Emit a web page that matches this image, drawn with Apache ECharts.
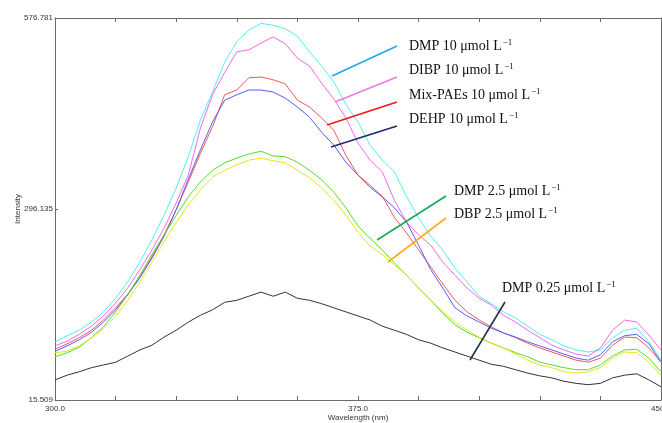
<!DOCTYPE html>
<html>
<head>
<meta charset="utf-8">
<script src="https://cdn.jsdelivr.net/npm/echarts@6/dist/echarts.min.js"></script>
<style>html,body{margin:0;padding:0;background:#fff}#c{width:662px;height:423px}</style>
</head>
<body>
<div id="c"></div>
<script>
const wavelengths = [300,303,306,309,312,315,318,321,324,327,330,333,336,339,342,345,348,351,354,357,360,363,366,369,372,375,378,381,384,387,390,393,396,399,402,405,408,411,414,417,420,423,426,429,432,435,438,441,444,447,450];
const dmp10 = [101,110,118,130,145,165,189,218,251,287,327,373,427,468,512,542,559,569,566,561,550,527,506,483,450,424,390,368,351,315,283,256,236,209,189,168,157,145,136,124,112,104,95,89,86,89,107,118,121,101,74];
const dibp10 = [95,102,112,124,139,158,180,207,236,268,305,346,415,464,497,527,530,540,549,539,518,506,481,458,430,393,368,351,309,277,258,243,218,199,180,165,155,140,130,118,107,96,89,83,80,92,118,133,130,111,89];
const mix10 = [90,98,107,118,133,151,171,196,226,258,295,336,378,417,464,471,489,490,486,480,456,446,430,412,375,346,331,315,284,261,236,211,186,162,145,133,123,114,107,99,92,86,80,74,71,77,96,108,107,92,71];
const dehp10 = [87,95,104,115,130,148,170,195,224,256,295,340,383,424,456,464,471,471,468,459,446,431,409,390,365,346,328,314,298,277,243,207,180,151,139,130,121,114,108,101,95,89,83,77,74,82,101,110,112,98,71];
const dmp25 = [79,85,93,107,123,145,170,199,229,258,287,314,336,353,364,371,377,381,374,373,365,353,339,321,298,271,253,236,217,199,180,162,143,126,115,107,99,92,85,79,71,67,63,60,60,67,80,89,90,77,57];
const dbp25 = [85,87,95,107,120,139,162,189,218,248,276,302,324,343,353,361,368,371,367,364,353,342,327,309,287,262,242,229,214,199,180,162,145,130,118,108,99,92,83,74,67,63,57,55,57,63,77,86,85,71,52];
const dmp025 = [45,52,57,63,67,71,80,89,96,108,118,130,140,148,159,162,168,174,168,174,165,162,157,151,145,139,133,124,118,112,104,99,92,86,80,74,68,65,60,55,51,48,43,40,38,40,48,52,54,45,35];

const seriesNames = ['DMP 10','DIBP 10','Mix-PAEs 10','DEHP 10','DMP 2.5','DBP 2.5','DMP 0.25'];
const seriesData = [dmp10, dibp10, mix10, dehp10, dmp25, dbp25, dmp025];
const seriesColors = ['#52eef0','#ee6aee','#f25a55','#5a5cf5','#5ada2a','#e6e61e','#333333'];

const yLabelValues = [15.509, 296.145, 576.781];
const yTickLabels = ['15.509', '296.135', '576.781'];
const xLabelValues = [300, 375, 450];
const xTickLabels = ['300.0', '375.0', '450.0'];

const annotations = [
  {text: 'DMP 10 μmol L', color: '#1fa8e8'},
  {text: 'DIBP 10 μmol L', color: '#ee7ade'},
  {text: 'Mix-PAEs 10 μmol L', color: '#ee1818'},
  {text: 'DEHP 10 μmol L', color: '#1c2c68'},
  {text: 'DMP 2.5 μmol L', color: '#16aa58'},
  {text: 'DBP 2.5 μmol L', color: '#ffaa22'},
  {text: 'DMP 0.25 μmol L', color: '#22334f'}
];
// layout of annotation leader lines and labels (pixels)
const annLayout = [
  {x1: 332, y1: 76, x2: 397, y2: 46, tx: 409, ty: 46},
  {x1: 335, y1: 102, x2: 397, y2: 77, tx: 409, ty: 70},
  {x1: 327, y1: 125, x2: 397, y2: 102, tx: 409, ty: 95},
  {x1: 331, y1: 147, x2: 397, y2: 126, tx: 409, ty: 119},
  {x1: 377, y1: 240, x2: 446, y2: 196, tx: 454, ty: 191},
  {x1: 388, y1: 262, x2: 446, y2: 218, tx: 454, ty: 214},
  {x1: 470, y1: 360, x2: 505, y2: 302, tx: 502, ty: 288}
];

const chart = echarts.init(document.getElementById('c'), null, {renderer: 'canvas'});
const axisColor = '#6a6a6a';
const labelStyle = {fontFamily: 'Liberation Sans', fontSize: 8, color: '#333'};

const graphics = [];
annotations.forEach((a, i) => {
  const L = annLayout[i];
  graphics.push({type: 'line', shape: {x1: L.x1, y1: L.y1, x2: L.x2, y2: L.y2}, style: {stroke: a.color, lineWidth: 1.6}, z: 100});
  graphics.push({type: 'text', x: L.tx, y: L.ty, z: 100, style: {
    text: '{a|' + a.text + '}{s|−1}',
    verticalAlign: 'middle', align: 'left',
    rich: {
      a: {fontFamily: 'Liberation Serif', fontSize: 14, fill: '#111', color: '#111', lineHeight: 16},
      s: {fontFamily: 'Liberation Serif', fontSize: 9, fill: '#111', color: '#111', lineHeight: 16, verticalAlign: 'top', padding: [0,0,6,1]}
    }
  }});
});

chart.setOption({
  animation: false,
  backgroundColor: '#fff',
  grid: {left: 55, right: 1, top: 18, bottom: 23, containLabel: false, outerBoundsMode: 'none'},
  xAxis: [{
    type: 'value', min: 300, max: 450, interval: 15, position: 'bottom',
    axisLine: {lineStyle: {color: axisColor, width: 1}},
    axisTick: {inside: true, length: 4, lineStyle: {color: axisColor}},
    axisLabel: Object.assign({customValues: xLabelValues, margin: 5, hideOverlap: false,
      formatter: (v) => { const i = xLabelValues.indexOf(v); return i >= 0 ? xTickLabels[i] : ''; }}, labelStyle),
    splitLine: {show: false},
    name: 'Wavelength (nm)', nameLocation: 'middle', nameGap: 14, nameMoveOverlap: false,
    nameTextStyle: {fontFamily: 'Liberation Sans', fontSize: 8, color: '#333'}
  }, {
    type: 'value', min: 300, max: 450, interval: 15, position: 'top',
    axisLine: {lineStyle: {color: axisColor, width: 1}},
    axisTick: {inside: true, length: 4, lineStyle: {color: axisColor}},
    axisLabel: {show: false}, splitLine: {show: false}
  }],
  yAxis: [{
    type: 'value', min: 15.509, max: 576.781, position: 'left',
    axisLine: {show: true, lineStyle: {color: axisColor, width: 1}},
    axisTick: {show: true, inside: true, length: 3, customValues: yLabelValues, lineStyle: {color: axisColor}},
    axisLabel: Object.assign({customValues: yLabelValues, margin: 2,
      formatter: (v) => { let best = 0; yLabelValues.forEach((u, i) => { if (Math.abs(u - v) < Math.abs(yLabelValues[best] - v)) best = i; }); return yTickLabels[best]; }}, labelStyle),
    splitLine: {show: false},
    name: 'Intensity', nameLocation: 'middle', nameGap: 33, nameRotate: 90, nameMoveOverlap: false,
    nameTextStyle: {fontFamily: 'Liberation Sans', fontSize: 8, color: '#333'}
  }, {
    type: 'value', min: 15.509, max: 576.781, position: 'right',
    axisLine: {show: true, lineStyle: {color: axisColor, width: 1}},
    axisTick: {show: false}, axisLabel: {show: false}, splitLine: {show: false}
  }],
  series: seriesData.map((d, i) => ({
    name: seriesNames[i], type: 'line', xAxisIndex: 0, yAxisIndex: 0,
    data: wavelengths.map((w, k) => [w, d[k]]),
    showSymbol: false, symbol: 'none', smooth: false,
    lineStyle: {color: seriesColors[i], width: 1}, itemStyle: {color: seriesColors[i]},
    z: 2
  })),
  graphic: graphics
});
</script>
</body>
</html>
